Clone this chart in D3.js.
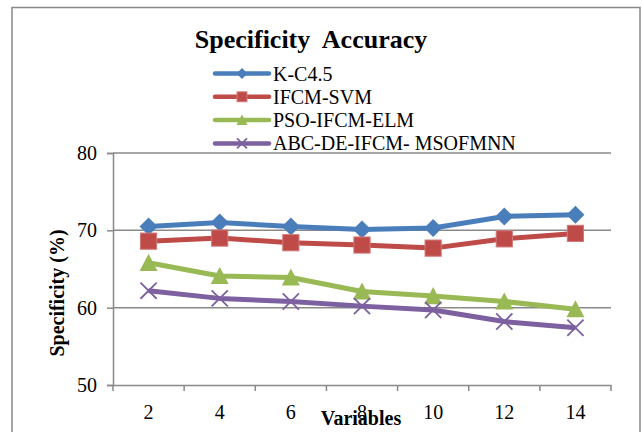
<!DOCTYPE html>
<html>
<head>
<meta charset="utf-8">
<script src="https://cdn.jsdelivr.net/npm/d3@7"></script>
<style>
  body { margin: 0; background: #fff; }
  svg { display: block; font-family: "Liberation Serif", "Times New Roman", serif; }
</style>
</head>
<body>
<svg width="642" height="432"></svg>
<script>
const variables = [2, 4, 6, 8, 10, 12, 14];
const kc45 = [70.5, 71.0, 70.5, 70.1, 70.3, 71.8, 72.0];
const ifcmSvm = [68.6, 69.0, 68.4, 68.1, 67.7, 68.9, 69.6];
const psoIfcmElm = [65.8, 64.1, 63.9, 62.1, 61.5, 60.8, 59.8];
const abcDe = [62.2, 61.2, 60.8, 60.2, 59.7, 58.2, 57.4];
const yTicks = [50, 60, 70, 80];

const series = [
  { name: 'K-C4.5', values: kc45, color: '#4a7ebb', marker: 'diamond' },
  { name: 'IFCM-SVM', values: ifcmSvm, color: '#be4b48', marker: 'square' },
  { name: 'PSO-IFCM-ELM', values: psoIfcmElm, color: '#98b954', marker: 'triangle' },
  { name: 'ABC-DE-IFCM- MSOFMNN', values: abcDe, color: '#7d60a0', marker: 'cross' }
];

const svg = d3.select('svg');
const gray = '#898989';

// chart frame
svg.append('rect')
   .attr('x', 12).attr('y', 7.5)
   .attr('width', 628).attr('height', 440)
   .attr('fill', 'none').attr('stroke', gray).attr('stroke-width', 1.5);

const x = d3.scaleBand().domain(variables).range([113, 611]);
const y = d3.scaleLinear().domain([50, 80]).range([385, 153]);
const cx = d => x(d) + x.bandwidth() / 2;

// gridlines
svg.append('g').selectAll('line').data(yTicks.filter(t => t > 50)).enter()
   .append('line')
   .attr('x1', 113).attr('x2', 611)
   .attr('y1', d => y(d)).attr('y2', d => y(d))
   .attr('stroke', gray).attr('stroke-width', 1.5);

// y axis
const yAxis = svg.append('g')
   .attr('transform', 'translate(113,0)')
   .call(d3.axisLeft(y).tickValues(yTicks).tickSize(6).tickPadding(10));
yAxis.selectAll('text').attr('font-size', 20).attr('fill', '#000')
     .attr('font-family', '"Liberation Serif", serif');
yAxis.selectAll('line, path').attr('stroke', gray).attr('stroke-width', 1.5);

// x axis: line, tick marks between categories, labels at centres
const xAxis = svg.append('g')
   .attr('transform', 'translate(0,385)')
   .call(d3.axisBottom(x).tickSize(0).tickPadding(20).tickSizeOuter(0));
xAxis.select('path').attr('stroke', gray).attr('stroke-width', 1.5);
xAxis.selectAll('text').attr('font-size', 20).attr('fill', '#000')
     .attr('font-family', '"Liberation Serif", serif');
const edges = variables.map(v => x(v)).concat([x.range()[1]]);
xAxis.selectAll('.edge').data(edges).enter()
   .append('line')
   .attr('x1', d => d).attr('x2', d => d)
   .attr('y1', 0).attr('y2', 6)
   .attr('stroke', gray).attr('stroke-width', 1.5);

// markers
function drawMarker(g, type, color, s) {
  if (type === 'diamond') {
    g.append('path').attr('d', `M0,${-s/2}L${s/2},0L0,${s/2}L${-s/2},0Z`).attr('fill', color);
  } else if (type === 'square') {
    const h = s * 0.45;
    g.append('rect').attr('x', -h).attr('y', -h).attr('width', 2*h).attr('height', 2*h)
     .attr('fill', color).attr('stroke', '#d07a78').attr('stroke-width', 1);
  } else if (type === 'triangle') {
    g.append('path').attr('d', `M0,${-s/2}L${s/2},${s*0.45}L${-s/2},${s*0.45}Z`).attr('fill', color);
  } else {
    const h = s * 0.45;
    g.append('path').attr('d', `M${-h},${-h}L${h},${h}M${-h},${h}L${h},${-h}`)
     .attr('stroke', color).attr('stroke-width', 1.8).attr('fill', 'none');
  }
}

const line = d3.line().x(d => cx(d.v)).y(d => y(d.y));

series.forEach(s => {
  const pts = variables.map((v, i) => ({ v: v, y: s.values[i] }));
  svg.append('path')
     .datum(pts)
     .attr('d', line)
     .attr('fill', 'none')
     .attr('stroke', s.color)
     .attr('stroke-width', 5)
     .attr('stroke-linejoin', 'round');
  pts.forEach(p => {
    const g = svg.append('g').attr('transform', `translate(${cx(p.v)},${y(p.y)})`);
    drawMarker(g, s.marker, s.color, 18);
  });
});

// title
svg.append('text')
   .attr('x', 311).attr('y', 48)
   .attr('text-anchor', 'middle')
   .attr('font-size', 26).attr('font-weight', 'bold')
   .style('white-space', 'pre')
   .text('Specificity  Accuracy');

// legend
const legend = svg.append('g');
series.forEach((s, i) => {
  const ly = 73.5 + i * 23.3;
  legend.append('line')
     .attr('x1', 215).attr('x2', 269)
     .attr('y1', ly).attr('y2', ly)
     .attr('stroke', s.color).attr('stroke-width', 4.5).attr('stroke-linecap', 'round');
  const g = legend.append('g').attr('transform', `translate(242,${ly})`);
  drawMarker(g, s.marker, s.color, 11);
  legend.append('text')
     .attr('x', 273).attr('y', ly + 7)
     .attr('font-size', 20)
     .style('white-space', 'pre')
     .text(s.name);
});

// axis titles
svg.append('text')
   .attr('transform', 'translate(64,293) rotate(-90)')
   .attr('text-anchor', 'middle')
   .attr('font-size', 20).attr('font-weight', 'bold')
   .text('Specificity (%)');

svg.append('text')
   .attr('x', 361).attr('y', 425)
   .attr('text-anchor', 'middle')
   .attr('font-size', 20).attr('font-weight', 'bold')
   .text('Variables');
</script>
</body>
</html>
